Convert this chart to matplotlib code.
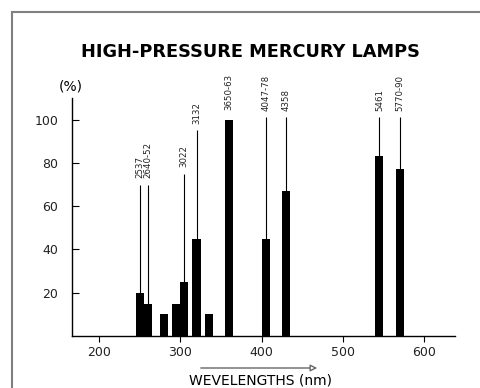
import matplotlib
matplotlib.use("Agg")
import matplotlib.pyplot as plt
from matplotlib.lines import Line2D
from matplotlib.patches import FancyArrowPatch

# ---- data ----
bar_wavelengths = [250, 260, 280, 295, 305, 320, 335, 360, 405, 430, 545, 570]
bar_values = [20, 15, 10, 15, 25, 45, 10, 100, 45, 67, 83, 77]

line_labels = ["2537", "2640-52", "3022", "3132", "3650-63", "4047-78", "4358", "5461", "5770-90"]
line_wavelengths = [250, 260, 305, 320, 360, 405, 430, 545, 570]
line_tops = [70, 70, 75, 95, 100, 101, 101, 101, 101]

x_ticks = [200, 300, 400, 500, 600]
y_ticks = [20, 40, 60, 80, 100]

title = "HIGH-PRESSURE MERCURY LAMPS"
x_label = "WEVELENGTHS (nm)"
y_label = "(%)"

fam = ["DejaVu Sans"]

fig = plt.figure(figsize=(4.81, 3.88), dpi=100)
ax = fig.add_axes([72/481, 1-336/388, (455-72)/481, (336-98)/388])

ax.vlines(line_wavelengths, 0, line_tops, color="black", lw=0.8, zorder=1)
ax.bar(bar_wavelengths, bar_values, width=10, color="black", zorder=2)

for lab, wl, top in zip(line_labels, line_wavelengths, line_tops):
    gap = 7 if lab == "3650-63" else 4.5
    ax.annotate(lab, (wl, top), xytext=(0, gap), textcoords="offset points",
                rotation=90, ha="center", va="bottom", fontsize=6.2,
                family=fam, color="#222222")

ax.set_xlim(166.8, 638)
ax.set_ylim(0, 110)
ax.set_xticks(x_ticks)
ax.set_yticks(y_ticks)
ax.tick_params(axis="y", direction="in", length=5, width=0.8, pad=10, labelsize=9)
ax.tick_params(axis="x", direction="out", length=4, width=0.8, pad=3, labelsize=9)
for lbl in ax.get_xticklabels() + ax.get_yticklabels():
    lbl.set_family(fam)
    lbl.set_color("#222222")
ax.spines["top"].set_visible(False)
ax.spines["right"].set_visible(False)
for s in ("left", "bottom"):
    ax.spines[s].set_linewidth(1.0)

# frame
fx, fy = 12/481, 1-12/388
fig.add_artist(Line2D([fx, fx], [0, fy], color="#808080", lw=1.5, transform=fig.transFigure))
fig.add_artist(Line2D([fx, 1], [fy, fy], color="#808080", lw=1.5, transform=fig.transFigure))

fig.text(250/481, 1-52/388, title, ha="center", va="center", fontsize=12.8,
         fontweight="bold", family=fam)
fig.text(71/481, 1-86/388, y_label, ha="center", va="center", fontsize=10, family=fam)
fig.text(261/481, 1-380/388, x_label, ha="center", va="center", fontsize=10, family=fam)
fig.add_artist(FancyArrowPatch((198/481, 1-368/388), (320/481, 1-368/388),
                               transform=fig.transFigure, arrowstyle="-|>",
                               mutation_scale=10, fc="white", ec="#666666", lw=1.0))

fig.savefig("out.png", dpi=100)
